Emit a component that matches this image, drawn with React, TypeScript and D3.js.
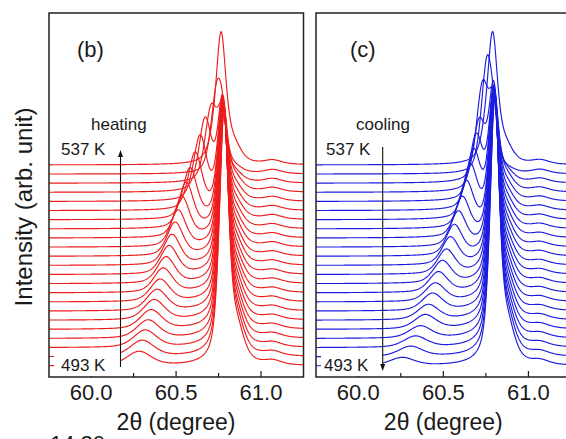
import React from "react";
import * as d3 from "d3";

// ---- data ----
const TEMPS_K = [493, 495, 497, 499, 501, 503, 505, 507, 509, 511, 513, 515, 517, 519, 521, 523, 525, 527, 529, 531, 533, 535, 537];

// heating panel (b): main sharp peak A, lower-angle broad peak B
const HEAT_POS_A = [60.782, 60.782, 60.781, 60.781, 60.78, 60.78, 60.779, 60.779, 60.778, 60.778, 60.777, 60.777, 60.776, 60.776, 60.775, 60.775, 60.774, 60.774, 60.773, 60.773, 60.772, 60.77, 60.765];
const HEAT_H_A = [248, 240, 232, 223, 215, 206, 198, 190, 181, 173, 165, 157, 149, 141, 133, 124, 116, 107, 99, 90, 62, 38, 125];
const HEAT_POS_B = [60.282, 60.3, 60.318, 60.335, 60.353, 60.371, 60.388, 60.406, 60.424, 60.441, 60.459, 60.476, 60.494, 60.512, 60.535, 60.559, 60.582, 60.612, 60.641, 60.671, 60.706, 60.738, 60.72];
const HEAT_H_B = [14, 16, 17, 18, 19, 20, 21, 22, 24, 26, 28, 30, 33, 36, 40, 45, 50, 56, 63, 70, 70, 72, 10];
const HEAT_W_B = [0.17, 0.165, 0.16, 0.155, 0.15, 0.145, 0.14, 0.135, 0.13, 0.125, 0.12, 0.115, 0.11, 0.107, 0.104, 0.1, 0.097, 0.094, 0.09, 0.087, 0.084, 0.08, 0.08];

// cooling panel (c)
const COOL_POS_A = [60.802, 60.802, 60.801, 60.801, 60.8, 60.8, 60.8, 60.799, 60.799, 60.799, 60.798, 60.798, 60.798, 60.797, 60.797, 60.797, 60.796, 60.796, 60.796, 60.795, 60.795, 60.795, 60.79];
const COOL_H_A = [264, 256, 247, 238, 230, 221, 212, 204, 195, 186, 178, 169, 160, 152, 143, 134, 126, 117, 108, 100, 70, 25, 122];
const COOL_POS_B = [60.258, 60.307, 60.336, 60.365, 60.394, 60.412, 60.436, 60.453, 60.471, 60.494, 60.518, 60.541, 60.564, 60.588, 60.611, 60.635, 60.658, 60.677, 60.693, 60.711, 60.73, 60.757, 60.75];
const COOL_H_B = [8, 10, 11, 12, 14, 15, 17, 18, 20, 22, 24, 27, 30, 34, 39, 45, 52, 57, 62, 66, 92, 108, 15];
const COOL_W_B = [0.17, 0.165, 0.16, 0.155, 0.15, 0.145, 0.14, 0.135, 0.13, 0.125, 0.12, 0.115, 0.11, 0.107, 0.104, 0.1, 0.097, 0.094, 0.09, 0.087, 0.084, 0.08, 0.08];

const X_TICKS = [60.0, 60.5, 61.0];
const X_MINOR = [60.25, 60.75];
const X_DOMAIN = [59.752, 61.25];

// peak-shape constants
const W_A = 0.065;
const SHOULDER_SHIFT = 0.075;
const SHOULDER_RATIO = 0.12;
const BUMP_POS = 61.07;
const BUMP_H = 4;

const OFFSET_BASE = 11;
const OFFSET_STEP = 9.14;

function pv(x: number, c: number, h: number, w: number, eta: number) {
  const t = (x - c) / (w / 2);
  return h * (eta / (1 + t * t) + (1 - eta) * Math.exp(-Math.LN2 * t * t));
}

type PanelDef = {
  id: string;
  x0: number;
  x1: number;
  color: string;
  label: string;
  word: string;
  posA: number[];
  hA: number[];
  posB: number[];
  hB: number[];
  wB: number[];
  arrowX: number;
  arrowUp: boolean;
  lblX: number;
  wordX: number;
  topLblX: number;
  botLblX: number;
};

const TOP = 13;
const BOTTOM = 377;
const FONT = "'Liberation Sans', Arial, sans-serif";
const TXT = "#1a1a1a";

function Panel({ p }: { p: PanelDef }) {
  const x = d3.scaleLinear().domain(X_DOMAIN).range([p.x0, p.x1]);
  const y = d3.scaleLinear().domain([0, 364]).range([BOTTOM, TOP]);
  const grid = d3.range(X_DOMAIN[0], X_DOMAIN[1] + 0.0001, 0.003);
  const line = d3
    .line<[number, number]>()
    .x((d) => x(d[0]))
    .y((d) => y(d[1]));
  const paths = TEMPS_K.map((_, i) => {
    const off = OFFSET_BASE + i * OFFSET_STEP;
    const pts: [number, number][] = grid.map((g) => {
      const v =
        pv(g, p.posA[i], p.hA[i], i === TEMPS_K.length - 1 ? 0.07 : W_A, 0.6) +
        pv(g, p.posB[i], p.hB[i], p.wB[i], 0.4) +
        pv(g, p.posA[i] + SHOULDER_SHIFT, p.hA[i] * SHOULDER_RATIO, 0.1, 0.5) +
        pv(g, BUMP_POS, BUMP_H, 0.12, 0.5);
      return [g, off + v];
    });
    return line(pts) as string;
  });
  const clipId = "clip-" + p.id;
  const yTop537 = y(OFFSET_BASE + (TEMPS_K.length - 1) * OFFSET_STEP);
  return (
    <g>
      <defs>
        <clipPath id={clipId}>
          <rect x={p.x0} y={TOP} width={p.x1 - p.x0} height={BOTTOM - TOP} />
        </clipPath>
      </defs>
      <g clipPath={`url(#${clipId})`}>
        {paths.map((d, i) => (
          <path key={i} d={d} fill="none" stroke={p.color} strokeWidth={1.15} />
        ))}
        {/* white box behind the 493 K label */}
        <rect x={p.x0 + 5} y={351} width={p.arrowX - p.x0 - 5.5} height={25} fill="#fff" />
      </g>
      {/* ticks */}
      {X_TICKS.map((t) => (
        <line key={"M" + t} x1={x(t)} x2={x(t)} y1={BOTTOM} y2={BOTTOM - 6} stroke={TXT} strokeWidth={1.2} />
      ))}
      {X_MINOR.map((t) => (
        <line key={"m" + t} x1={x(t)} x2={x(t)} y1={BOTTOM} y2={BOTTOM - 4} stroke={TXT} strokeWidth={1.2} />
      ))}
      <rect x={p.x0 + 5} y={351} width={p.arrowX - p.x0 - 5.5} height={25} fill="#fff" />
      <rect x={p.x0} y={TOP} width={p.x1 - p.x0} height={BOTTOM - TOP} fill="none" stroke="#222" strokeWidth={1.5} />
      {X_TICKS.map((t) => (
        <text key={"L" + t} x={x(t)} y={400} textAnchor="middle" fontFamily={FONT} fontSize={22} fill={TXT}>
          {t.toFixed(1)}
        </text>
      ))}
      <text x={x(60.5)} y={430} textAnchor="middle" fontFamily={FONT} fontSize={23} fill={TXT}>
        2θ (degree)
      </text>
      <text x={p.lblX} y={57} fontFamily={FONT} fontSize={22} fill={TXT}>
        {p.label}
      </text>
      <text x={p.wordX} y={130} fontFamily={FONT} fontSize={17} fill={TXT}>
        {p.word}
      </text>
      <text x={p.topLblX} y={155} fontFamily={FONT} fontSize={17} fill={TXT}>
        {TEMPS_K[TEMPS_K.length - 1]} K
      </text>
      <text x={p.botLblX} y={371} fontFamily={FONT} fontSize={17} fill={TXT}>
        {TEMPS_K[0]} K
      </text>
      {/* arrow */}
      {p.arrowUp ? (
        <g>
          <line x1={p.arrowX} x2={p.arrowX} y1={367} y2={156} stroke="#111" strokeWidth={1.1} />
          <path d={`M${p.arrowX - 2.5},${157} L${p.arrowX},${150} L${p.arrowX + 2.5},${157} Z`} fill="#111" />
        </g>
      ) : (
        <g>
          <line x1={p.arrowX} x2={p.arrowX} y1={147} y2={365} stroke="#111" strokeWidth={1.1} />
          <path d={`M${p.arrowX - 2.5},${364} L${p.arrowX},${371} L${p.arrowX + 2.5},${364} Z`} fill="#111" />
        </g>
      )}
    </g>
  );
}

const PANELS: PanelDef[] = [
  {
    id: "b",
    x0: 49,
    x1: 303.5,
    color: "#ee1c1c",
    label: "(b)",
    word: "heating",
    posA: HEAT_POS_A,
    hA: HEAT_H_A,
    posB: HEAT_POS_B,
    hB: HEAT_H_B,
    wB: HEAT_W_B,
    arrowX: 120.5,
    arrowUp: true,
    lblX: 77,
    wordX: 91,
    topLblX: 61,
    botLblX: 61,
  },
  {
    id: "c",
    x0: 316,
    x1: 571,
    color: "#1c1ce0",
    label: "(c)",
    word: "cooling",
    posA: COOL_POS_A,
    hA: COOL_H_A,
    posB: COOL_POS_B,
    hB: COOL_H_B,
    wB: COOL_W_B,
    arrowX: 382.7,
    arrowUp: false,
    lblX: 350,
    wordX: 356,
    topLblX: 326,
    botLblX: 324,
  },
];

export default function App() {
  return (
    <svg
      width={566}
      height={439}
      style={{ position: "absolute", left: 0, top: 0, background: "#fff" }}
    >
      <rect x={0} y={0} width={566} height={439} fill="#fff" />
      {PANELS.map((p) => (
        <Panel key={p.id} p={p} />
      ))}
      <text
        transform="translate(32,207) rotate(-90)"
        textAnchor="middle"
        fontFamily={FONT}
        fontSize={24}
        fill={TXT}
      >
        Intensity (arb. unit)
      </text>
      <text x={50} y={451} fontFamily={FONT} fontSize={22} fill={TXT}>
        14.20
      </text>
    </svg>
  );
}
